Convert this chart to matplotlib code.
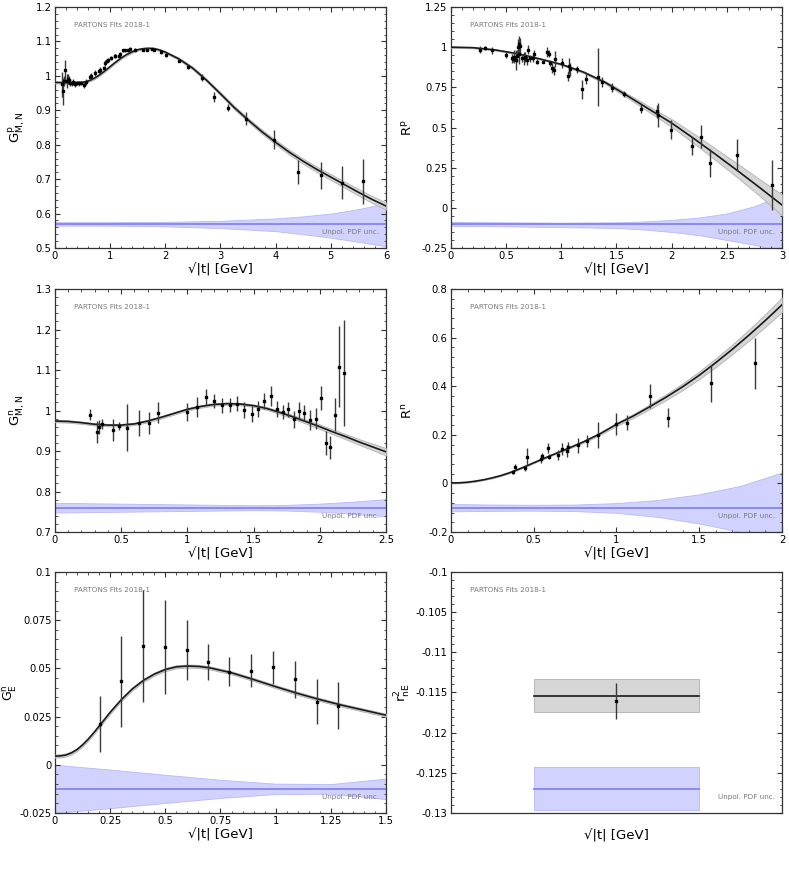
import numpy as np
import matplotlib
matplotlib.use('Agg')
import matplotlib.pyplot as plt
from matplotlib.ticker import AutoMinorLocator, FuncFormatter, MultipleLocator

# ---------------- data ----------------
# G^p_M,N
gpm_x = [0.13, 0.15, 0.17, 0.19, 0.21, 0.23, 0.25, 0.27, 0.30, 0.33, 0.36, 0.40, 0.44, 0.48,
         0.52, 0.56, 0.63, 0.66, 0.72, 0.79, 0.81, 0.88, 0.91, 0.94, 0.96, 1.01, 1.08, 1.09,
         1.16, 1.18, 1.24, 1.27, 1.33, 1.36, 1.45, 1.60, 1.66, 1.75, 1.79, 1.93, 2.02, 2.25,
         2.42, 2.66, 2.88, 3.14, 3.46, 3.97, 4.41, 4.82, 5.20, 5.59]
gpm_y = [0.975, 0.955, 0.985, 1.016, 0.985, 0.990, 0.989, 0.980, 0.978, 0.982, 0.977, 0.980, 0.978, 0.979,
         0.974, 0.982, 0.998, 0.999, 1.008, 1.013, 1.018, 1.023, 1.037, 1.042, 1.047, 1.052, 1.058, 1.059,
         1.057, 1.064, 1.074, 1.074, 1.074, 1.078, 1.076, 1.076, 1.076, 1.078, 1.076, 1.068, 1.061, 1.044,
         1.026, 0.994, 0.939, 0.907, 0.876, 0.815, 0.720, 0.711, 0.689, 0.694]
gpm_e = [0.035, 0.040, 0.015, 0.030, 0.020, 0.015, 0.012, 0.010, 0.008, 0.008, 0.008, 0.006, 0.006, 0.006,
         0.008, 0.008, 0.006, 0.010, 0.008, 0.006, 0.008, 0.007, 0.008, 0.006, 0.006, 0.005, 0.005, 0.005,
         0.006, 0.005, 0.004, 0.004, 0.004, 0.005, 0.004, 0.004, 0.005, 0.004, 0.005, 0.004, 0.005, 0.005,
         0.007, 0.010, 0.015, 0.010, 0.020, 0.028, 0.035, 0.040, 0.048, 0.065]
gpm_cx = [0, 0.25, 0.5, 0.6, 0.7, 0.8, 0.9, 1.0, 1.1, 1.2, 1.3, 1.4, 1.5, 1.6, 1.7, 1.8, 1.9, 2.0,
          2.25, 2.5, 2.75, 3.0, 3.25, 3.5, 3.75, 4.0, 4.25, 4.5, 4.75, 5.0, 5.25, 5.5, 5.75, 6.0]
gpm_cy = [0.981, 0.980, 0.981, 0.985, 0.992, 1.002, 1.014, 1.027, 1.040, 1.052, 1.062, 1.070, 1.076,
          1.079, 1.080, 1.079, 1.075, 1.069, 1.049, 1.022, 0.987, 0.948, 0.908, 0.872, 0.838, 0.807,
          0.778, 0.752, 0.728, 0.706, 0.684, 0.662, 0.641, 0.622]
gpm_cw = [0.003, 0.003, 0.003, 0.003, 0.003, 0.003, 0.003, 0.003, 0.003, 0.003, 0.003, 0.003, 0.003,
          0.003, 0.003, 0.003, 0.003, 0.003, 0.0035, 0.004, 0.004, 0.0045, 0.005, 0.0055, 0.006, 0.0065,
          0.007, 0.0075, 0.008, 0.0085, 0.009, 0.0095, 0.010, 0.0105]
gpm_ux = [0, 1, 2, 3, 4, 4.5, 5, 5.5, 6]
gpm_uc = 0.57
gpm_uhi = [0.575, 0.575, 0.576, 0.579, 0.586, 0.592, 0.600, 0.613, 0.630]
gpm_ulo = [0.565, 0.565, 0.563, 0.558, 0.549, 0.540, 0.530, 0.518, 0.505]

# R^p
rp_x = [0.26, 0.31, 0.37, 0.50, 0.55, 0.56, 0.57, 0.59, 0.60, 0.61, 0.62, 0.62, 0.63, 0.64, 0.66,
        0.67, 0.685, 0.70, 0.715, 0.74, 0.755, 0.78, 0.83, 0.87, 0.89, 0.90, 0.92, 0.93, 0.94, 1.01,
        1.06, 1.07, 1.08, 1.14, 1.19, 1.22, 1.33, 1.37, 1.46, 1.57, 1.72, 1.87, 1.875, 1.99, 2.18,
        2.27, 2.35, 2.59, 2.91]
rp_y = [0.985, 0.995, 0.980, 0.950, 0.930, 0.925, 0.940, 0.920, 0.945, 1.000, 0.955, 1.017, 1.010,
        0.930, 0.930, 0.940, 0.920, 0.985, 0.930, 0.930, 0.960, 0.910, 0.910, 0.970, 0.960, 0.903,
        0.872, 0.855, 0.924, 0.903, 0.820, 0.880, 0.862, 0.862, 0.737, 0.800, 0.816, 0.783, 0.748,
        0.707, 0.618, 0.600, 0.577, 0.486, 0.386, 0.444, 0.280, 0.330, 0.143]
rp_e = [0.020, 0.010, 0.020, 0.020, 0.030, 0.020, 0.040, 0.060, 0.040, 0.050, 0.060, 0.050, 0.050,
        0.020, 0.040, 0.030, 0.030, 0.030, 0.020, 0.020, 0.020, 0.015, 0.010, 0.030, 0.020, 0.020,
        0.030, 0.030, 0.050, 0.030, 0.030, 0.050, 0.040, 0.020, 0.060, 0.030, 0.180, 0.030, 0.030,
        0.020, 0.030, 0.040, 0.075, 0.060, 0.055, 0.070, 0.085, 0.100, 0.155]
rp_cx = [0, 0.2, 0.4, 0.6, 0.8, 1.0, 1.2, 1.4, 1.6, 1.8, 2.0, 2.2, 2.4, 2.6, 2.8, 3.0]
rp_cy = [1.000, 0.997, 0.983, 0.960, 0.928, 0.893, 0.845, 0.780, 0.697, 0.612, 0.528, 0.432, 0.332,
         0.230, 0.125, 0.018]
rp_cw = [0.004, 0.004, 0.004, 0.004, 0.004, 0.004, 0.006, 0.009, 0.013, 0.018, 0.024, 0.030, 0.036,
         0.043, 0.052, 0.065]
rp_ux = [0, 0.5, 1.0, 1.5, 1.75, 2.0, 2.25, 2.5, 2.75, 3.0]
rp_uc = -0.10
rp_uhi = [-0.088, -0.090, -0.092, -0.090, -0.085, -0.075, -0.060, -0.035, 0.010, 0.080]
rp_ulo = [-0.112, -0.115, -0.120, -0.125, -0.135, -0.150, -0.170, -0.200, -0.230, -0.270]

# G^n_M,N
gnm_x = [0.264, 0.315, 0.332, 0.355, 0.44, 0.486, 0.546, 0.637, 0.707, 0.778, 0.994, 1.07, 1.138,
         1.201, 1.264, 1.322, 1.377, 1.43, 1.485, 1.531, 1.581, 1.629, 1.674, 1.719, 1.762, 1.805,
         1.843, 1.883, 1.926, 1.969, 2.006, 2.044, 2.079, 2.115, 2.147, 2.185]
gnm_y = [0.990, 0.948, 0.959, 0.967, 0.951, 0.961, 0.958, 0.969, 0.969, 0.995, 0.996, 1.009, 1.033,
         1.023, 1.013, 1.014, 1.017, 1.002, 0.992, 1.003, 1.023, 1.035, 1.003, 0.996, 1.003, 0.978,
         0.999, 0.994, 0.976, 0.980, 1.031, 0.920, 0.909, 0.990, 1.108, 1.093]
gnm_e = [0.013, 0.027, 0.018, 0.013, 0.027, 0.010, 0.057, 0.032, 0.027, 0.027, 0.022, 0.025, 0.020,
         0.018, 0.018, 0.018, 0.018, 0.020, 0.020, 0.020, 0.020, 0.025, 0.020, 0.018, 0.018, 0.022,
         0.022, 0.020, 0.025, 0.025, 0.030, 0.030, 0.028, 0.040, 0.100, 0.130]
gnm_cx = [0, 0.1, 0.2, 0.3, 0.4, 0.5, 0.6, 0.7, 0.8, 0.9, 1.0, 1.1, 1.2, 1.3, 1.4, 1.5, 1.6, 1.7,
          1.8, 1.9, 2.0, 2.1, 2.2, 2.3, 2.4, 2.5]
gnm_cy = [0.974, 0.973, 0.970, 0.966, 0.964, 0.964, 0.967, 0.974, 0.983, 0.993, 1.003, 1.010, 1.015,
          1.017, 1.016, 1.012, 1.005, 0.995, 0.984, 0.972, 0.960, 0.947, 0.935, 0.922, 0.910, 0.898]
gnm_cw = [0.003, 0.003, 0.003, 0.003, 0.003, 0.003, 0.003, 0.003, 0.003, 0.003, 0.003, 0.003, 0.003,
          0.003, 0.003, 0.003, 0.0035, 0.004, 0.0045, 0.005, 0.0055, 0.006, 0.0065, 0.007, 0.008, 0.009]
gnm_ux = [0, 0.5, 1.0, 1.5, 1.75, 2.0, 2.25, 2.5]
gnm_uc = 0.76
gnm_uhi = [0.772, 0.770, 0.768, 0.766, 0.767, 0.770, 0.775, 0.781]
gnm_ulo = [0.748, 0.750, 0.752, 0.754, 0.753, 0.750, 0.745, 0.739]

# R^n
rn_x = [0.376, 0.388, 0.45, 0.459, 0.541, 0.549, 0.584, 0.59, 0.644, 0.67, 0.704, 0.708, 0.769,
        0.819, 0.889, 1.0, 1.064, 1.2, 1.312, 1.573, 1.84]
rn_y = [0.047, 0.066, 0.063, 0.109, 0.100, 0.112, 0.146, 0.109, 0.116, 0.140, 0.132, 0.150, 0.157,
        0.174, 0.199, 0.243, 0.250, 0.360, 0.271, 0.412, 0.495]
rn_e = [0.010, 0.015, 0.012, 0.035, 0.015, 0.015, 0.020, 0.010, 0.020, 0.025, 0.025, 0.020, 0.030,
        0.025, 0.055, 0.045, 0.030, 0.050, 0.040, 0.075, 0.105]
rn_cx = [0, 0.05, 0.1, 0.15, 0.2, 0.25, 0.3, 0.35, 0.4, 0.45, 0.5, 0.6, 0.7, 0.8, 0.9, 1.0, 1.1,
         1.2, 1.3, 1.4, 1.5, 1.6, 1.7, 1.8, 1.9, 2.0]
rn_cy = [0.002, 0.0025, 0.005, 0.0095, 0.0155, 0.023, 0.032, 0.043, 0.056, 0.070, 0.085, 0.114,
         0.142, 0.171, 0.204, 0.243, 0.277, 0.315, 0.355, 0.398, 0.445, 0.497, 0.552, 0.610, 0.671,
         0.735]
rn_cw = [0.002, 0.002, 0.002, 0.002, 0.002, 0.002, 0.002, 0.002, 0.002, 0.002, 0.002, 0.002, 0.003,
         0.004, 0.005, 0.007, 0.008, 0.010, 0.012, 0.014, 0.016, 0.018, 0.020, 0.023, 0.026, 0.030]
rn_ux = [0, 0.25, 0.5, 0.75, 1.0, 1.25, 1.5, 1.75, 2.0]
rn_uc = -0.10
rn_uhi = [-0.085, -0.087, -0.088, -0.087, -0.081, -0.068, -0.045, -0.010, 0.045]
rn_ulo = [-0.115, -0.113, -0.112, -0.114, -0.121, -0.138, -0.165, -0.200, -0.240]

# G^n_E
gne_x = [0.204, 0.30, 0.399, 0.50, 0.597, 0.693, 0.79, 0.889, 0.989, 1.086, 1.186, 1.284]
gne_y = [0.0210, 0.0434, 0.0616, 0.0609, 0.0595, 0.0534, 0.0483, 0.0488, 0.0505, 0.0443, 0.0328, 0.0307]
gne_e = [0.0145, 0.0236, 0.0290, 0.0244, 0.0157, 0.0092, 0.0076, 0.0086, 0.0087, 0.0097, 0.0117, 0.0123]
gne_cx = [0, 0.025, 0.05, 0.075, 0.1, 0.125, 0.15, 0.175, 0.2, 0.25, 0.3, 0.35, 0.4, 0.45, 0.5,
          0.55, 0.6, 0.65, 0.7, 0.8, 0.9, 1.0, 1.1, 1.2, 1.3, 1.4, 1.5]
gne_cy = [0.0045, 0.0046, 0.0051, 0.0062, 0.0079, 0.0103, 0.0132, 0.0165, 0.0200, 0.0272, 0.0337,
          0.0393, 0.0437, 0.0470, 0.0494, 0.0508, 0.0512, 0.0510, 0.0503, 0.0477, 0.0442, 0.0405,
          0.0370, 0.0338, 0.0309, 0.0283, 0.0257]
gne_cw = 0.0008
gne_ux = [0, 0.25, 0.5, 0.75, 1.0, 1.25, 1.5]
gne_uc = -0.0125
gne_uhi = [0.0, -0.0025, -0.0052, -0.0078, -0.0098, -0.0100, -0.0072]
gne_ulo = [-0.025, -0.0225, -0.0198, -0.0172, -0.0152, -0.0150, -0.0178]

# r^2_nE
r2_val, r2_err = -0.11605, 0.0022
r2_fit, r2_fit_lo, r2_fit_hi = -0.11539, -0.11738, -0.11332
r2_unc, r2_unc_lo, r2_unc_hi = -0.1270, -0.12967, -0.12433

# ---------------- plotting ----------------
TICK_FS = 7.2
LABEL_FS = 9.5
XLABEL = '√|t| [GeV]'
BAND_GRAY = '#d6d6d6'
BAND_BLUE = '#d2d2ff'
LINE_BLUE = '#8484f4'

fig = plt.figure(figsize=(7.89, 8.88), dpi=100)
lx, rx, w = 0.0697, 0.5716, 0.4195
rows = [(0.7207, 0.2714), (0.4009, 0.2736), (0.0845, 0.2714)]


def fmt(v, pos):
    return '{:g}'.format(round(v, 6))


def style(ax, xlim, ylim, xmaj, ymaj, ylabel, ylab_x, ylab_fs=LABEL_FS):
    ax.set_xlim(*xlim)
    ax.set_ylim(*ylim)
    if xmaj is not None:
        ax.xaxis.set_major_locator(MultipleLocator(xmaj))
        ax.xaxis.set_minor_locator(AutoMinorLocator(5))
        ax.xaxis.set_major_formatter(FuncFormatter(fmt))
    ax.yaxis.set_major_locator(MultipleLocator(ymaj))
    ax.yaxis.set_minor_locator(AutoMinorLocator(5))
    ax.yaxis.set_major_formatter(FuncFormatter(fmt))
    ax.tick_params(which='both', direction='in', top=True, right=True, labelsize=TICK_FS,
                   colors='#333333', labelcolor='black', pad=2.5)
    ax.tick_params(which='major', length=3.5, width=0.8)
    ax.tick_params(which='minor', length=1.8, width=0.6)
    for s in ax.spines.values():
        s.set_color('#333333')
        s.set_linewidth(0.9)
    ax.text(0.058, 0.925, 'PARTONS Fits 2018-1', transform=ax.transAxes, fontsize=5.2,
            color='#7a7a7a', va='center')
    ax.text(0.98, 0.065, 'Unpol. PDF unc.', transform=ax.transAxes, fontsize=5.2,
            color='#7a7a7a', ha='right', va='center')
    ax.set_ylabel(ylabel, fontsize=ylab_fs)
    ax.yaxis.set_label_coords(ylab_x, 0.5)


def panel(ax, px, py, pe, cx, cy, cw, ux, uc, uhi, ulo):
    ax.fill_between(ux, ulo, uhi, facecolor=BAND_BLUE, edgecolor='#b8b8fa', linewidth=0.6, zorder=1)
    ax.plot([ux[0], ux[-1]], [uc, uc], color=LINE_BLUE, lw=1.3, zorder=2)
    cy = np.asarray(cy)
    cw = np.asarray(cw)
    ax.fill_between(cx, cy - cw, cy + cw, facecolor=BAND_GRAY, edgecolor='#b0b0b0', linewidth=0.6,
                    zorder=3)
    ax.plot(cx, cy, color='#1a1a1a', lw=1.2, zorder=4)
    ax.errorbar(px, py, yerr=pe, fmt='s', ms=1.8, color='black', ecolor='#3a3a3a', elinewidth=1.0,
                capsize=0, zorder=5)


ax1 = fig.add_axes([lx, rows[0][0], w, rows[0][1]])
panel(ax1, gpm_x, gpm_y, gpm_e, gpm_cx, gpm_cy, gpm_cw, gpm_ux, gpm_uc, gpm_uhi, gpm_ulo)
style(ax1, (0, 6), (0.5, 1.2), 1, 0.1, r'$\mathrm{G}^{\mathrm{p}}_{\mathrm{M,N}}$', -0.085)

ax2 = fig.add_axes([rx, rows[0][0], w, rows[0][1]])
panel(ax2, rp_x, rp_y, rp_e, rp_cx, rp_cy, rp_cw, rp_ux, rp_uc, rp_uhi, rp_ulo)
style(ax2, (0, 3), (-0.25, 1.25), 0.5, 0.25, r'$\mathrm{R}^{\mathrm{p}}$', -0.109)

ax3 = fig.add_axes([lx, rows[1][0], w, rows[1][1]])
panel(ax3, gnm_x, gnm_y, gnm_e, gnm_cx, gnm_cy, gnm_cw, gnm_ux, gnm_uc, gnm_uhi, gnm_ulo)
style(ax3, (0, 2.5), (0.7, 1.3), 0.5, 0.1, r'$\mathrm{G}^{\mathrm{n}}_{\mathrm{M,N}}$', -0.085)

ax4 = fig.add_axes([rx, rows[1][0], w, rows[1][1]])
panel(ax4, rn_x, rn_y, rn_e, rn_cx, rn_cy, rn_cw, rn_ux, rn_uc, rn_uhi, rn_ulo)
style(ax4, (0, 2), (-0.2, 0.8), 0.5, 0.2, r'$\mathrm{R}^{\mathrm{n}}$', -0.109)

ax5 = fig.add_axes([lx, rows[2][0], w, rows[2][1]])
panel(ax5, gne_x, gne_y, gne_e, gne_cx, gne_cy, gne_cw, gne_ux, gne_uc, gne_uhi, gne_ulo)
style(ax5, (0, 1.5), (-0.025, 0.1), 0.25, 0.025, r'$\mathrm{G}^{\mathrm{n}}_{\mathrm{E}}$', -0.108,
      ylab_fs=9)

ax6 = fig.add_axes([rx, rows[2][0], w, rows[2][1]])
ax6.fill_between([0.25, 0.75], r2_unc_lo, r2_unc_hi, facecolor=BAND_BLUE, edgecolor='#b8b8fa',
                 linewidth=0.6, zorder=1)
ax6.plot([0.25, 0.75], [r2_unc, r2_unc], color=LINE_BLUE, lw=1.3, zorder=2)
ax6.fill_between([0.25, 0.75], r2_fit_lo, r2_fit_hi, facecolor=BAND_GRAY, edgecolor='#b0b0b0',
                 linewidth=0.6, zorder=3)
ax6.plot([0.25, 0.75], [r2_fit, r2_fit], color='#1a1a1a', lw=1.2, zorder=4)
ax6.errorbar([0.5], [r2_val], yerr=[r2_err], fmt='s', ms=1.8, color='black', ecolor='#3a3a3a',
             elinewidth=1.0, capsize=0, zorder=5)
style(ax6, (0, 1), (-0.13, -0.1), None, 0.005, r'$\mathrm{r}^{2}_{\mathrm{nE}}$', -0.115)
ax6.set_xticks([])

for ax in (ax1, ax2, ax3, ax4, ax5):
    ax.set_xlabel(XLABEL, fontsize=LABEL_FS, labelpad=1)
ax6.set_xlabel(XLABEL, fontsize=LABEL_FS, labelpad=12)

fig.savefig('out.png', dpi=100)
